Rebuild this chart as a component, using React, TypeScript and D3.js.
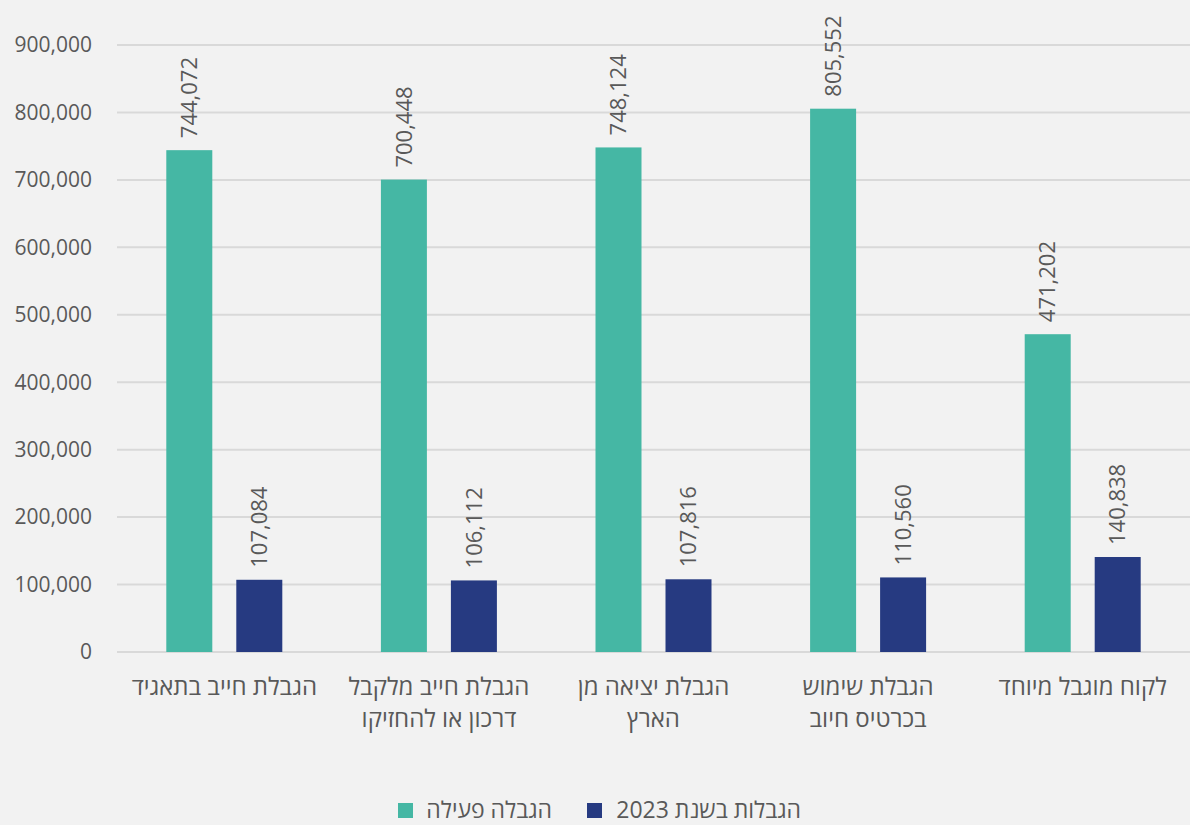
import React from "react";
import * as d3 from "d3";

const categories: string[][] = [
  ["הגבלת חייב בתאגיד"],
  ["הגבלת חייב מלקבל", "דרכון או להחזיקו"],
  ["הגבלת יציאה מן", "הארץ"],
  ["הגבלת שימוש", "בכרטיס חיוב"],
  ["לקוח מוגבל מיוחד"],
];
const activeValues = [744072, 700448, 748124, 805552, 471202];
const year2023Values = [107084, 106112, 107816, 110560, 140838];
const seriesNames = ["הגבלה פעילה", "הגבלות בשנת 2023"];
const yTicks = [0, 100000, 200000, 300000, 400000, 500000, 600000, 700000, 800000, 900000];

const W = 1190;
const H = 825;
const GREEN = "#45b7a4";
const NAVY = "#263a81";
const TEXT = "#595959";
const FONT = "'Open Sans', 'DejaVu Sans', sans-serif";

export default function App() {
  const x0 = d3.scaleBand<number>().domain(d3.range(categories.length)).range([117, 1190]);
  const y = d3.scaleLinear().domain([0, 900000]).range([652, 45]);
  const fmt = d3.format(",");
  const barW = 46;
  const gap = 24;

  return (
    <svg
      width={W}
      height={H}
      style={{ position: "absolute", left: 0, top: 0, background: "#f2f2f2" }}
      fontFamily={FONT}
    >
      <rect x={0} y={0} width={W} height={H} fill="#f2f2f2" />
      {yTicks.map((t) => (
        <g key={t}>
          <line x1={117} x2={1190} y1={y(t)} y2={y(t)} stroke="#d9d9d9" strokeWidth={2} />
          <text x={92} y={y(t)} dy="0.35em" textAnchor="end" fontSize={21} fill={TEXT}>
            {fmt(t)}
          </text>
        </g>
      ))}
      {categories.map((cat, i) => {
        const c = x0(i)! + x0.bandwidth() / 2;
        const xs = [c - gap / 2 - barW, c + gap / 2];
        const vals = [activeValues[i], year2023Values[i]];
        return (
          <g key={i}>
            {vals.map((v, j) => {
              const bx = xs[j];
              const cx = bx + barW / 2;
              const ty = y(v) - 12;
              return (
                <g key={j}>
                  <rect x={bx} y={y(v)} width={barW} height={y(0) - y(v)} fill={j === 0 ? GREEN : NAVY} />
                  <text
                    transform={`translate(${cx},${ty}) rotate(-90)`}
                    dy="0.35em"
                    textAnchor="start"
                    fontSize={22}
                    fill={TEXT}
                  >
                    {fmt(v)}
                  </text>
                </g>
              );
            })}
            {cat.map((line, k) => (
              <text
                key={k}
                x={c}
                y={687 + k * 32}
                dy="0.35em"
                textAnchor="middle"
                direction="rtl"
                fontSize={24}
                fill={TEXT}
              >
                {line}
              </text>
            ))}
          </g>
        );
      })}
      {/* legend */}
      <rect x={398} y={803} width={15} height={15} fill={GREEN} />
      <text x={552} y={810} dy="0.35em" textAnchor="start" direction="rtl" fontSize={23} fill={TEXT}>
        {seriesNames[0]}
      </text>
      <rect x={587} y={803} width={15} height={15} fill={NAVY} />
      <text x={801} y={810} dy="0.35em" textAnchor="start" direction="rtl" fontSize={23} fill={TEXT}>
        {seriesNames[1]}
      </text>
    </svg>
  );
}
